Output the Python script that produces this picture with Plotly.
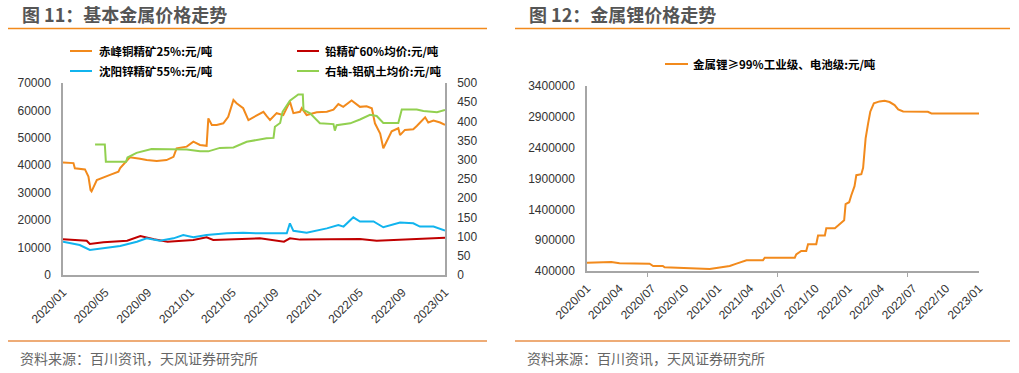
import plotly.graph_objects as go

W, H = 1019, 373

# ---------------- data: figure 11 ----------------
copper_dates = ["2020-01-01", "2020-01-31", "2020-02-04", "2020-03-04", "2020-03-14", "2020-03-20",
                "2020-03-23", "2020-04-07", "2020-05-15", "2020-06-08", "2020-06-13", "2020-07-11",
                "2020-08-09", "2020-08-28", "2020-09-26", "2020-10-24", "2020-11-13", "2020-11-22",
                "2020-12-21", "2021-01-09", "2021-01-28", "2021-02-16", "2021-02-21", "2021-03-03",
                "2021-03-17", "2021-04-05", "2021-04-19", "2021-05-04", "2021-05-13", "2021-06-01",
                "2021-06-16", "2021-07-10", "2021-07-29", "2021-08-07", "2021-08-17", "2021-09-05",
                "2021-09-24", "2021-10-13", "2021-10-23", "2021-11-11", "2021-11-16", "2021-11-30",
                "2021-12-29", "2022-01-27", "2022-02-15", "2022-03-01", "2022-03-15", "2022-04-08",
                "2022-05-02", "2022-05-21", "2022-06-05", "2022-06-14", "2022-06-29", "2022-07-08",
                "2022-07-18", "2022-08-01", "2022-08-20", "2022-08-25", "2022-09-08", "2022-10-02",
                "2022-10-12", "2022-11-05", "2022-11-14", "2022-11-29", "2022-12-18", "2023-01-01"]
copper_vals = [41000, 40800, 38900, 38500, 35900, 31000,
               30500, 34600, 36500, 37700, 39000, 42900,
               42400, 41900, 41600, 41900, 43100, 46200,
               46800, 48600, 47400, 47100, 57100, 54700,
               54700, 55300, 57700, 63800, 62600, 60800,
               56500, 58300, 59500, 58000, 56500, 59000,
               58300, 63200, 59000, 59500, 60800, 58300,
               59300, 59500, 60300, 62300, 61300, 63600,
               61300, 61500, 60800, 55300, 51600, 46200,
               48600, 52400, 53500, 51000, 52900, 53100,
               54300, 57500, 55600, 56300, 55600, 54700]

zinc_dates = ["2020-01-01", "2020-02-18", "2020-03-18", "2020-04-26", "2020-06-13", "2020-07-31",
              "2020-08-28", "2020-10-05", "2020-11-13", "2020-12-11", "2021-01-09", "2021-02-16",
              "2021-04-15", "2021-06-01", "2021-07-19", "2021-10-04", "2021-10-13", "2021-10-23",
              "2021-11-30", "2022-01-27", "2022-03-01", "2022-03-16", "2022-04-13", "2022-05-02",
              "2022-06-10", "2022-07-08", "2022-08-06", "2022-08-25", "2022-10-02", "2022-10-21",
              "2022-11-29", "2023-01-01"]
zinc_vals = [12150, 10940, 9120, 9700, 10570, 12150,
             13370, 12520, 13370, 14580, 13730, 14580,
             15190, 15400, 15190, 15190, 18850, 16100,
             15400, 17000, 18200, 17650, 21030, 19500,
             19500, 17400, 18600, 19100, 18850, 17650,
             17650, 16200]

lead_dates = ["2020-01-01", "2020-03-09", "2020-03-18", "2020-04-26", "2020-07-03", "2020-08-10",
              "2020-09-18", "2020-10-27", "2021-01-09", "2021-02-16", "2021-03-07", "2021-07-19",
              "2021-09-26", "2021-10-13", "2021-11-11", "2022-01-27", "2022-05-02", "2022-06-19",
              "2022-09-24", "2023-01-01"]
lead_vals = [13000, 12500, 11300, 11900, 12520, 14200,
             13000, 12150, 12760, 13730, 12760, 13370,
             12150, 13370, 12900, 13000, 13100, 12500,
             13000, 13600]

bauxite_dates = ["2020-04-02", "2020-04-30", "2020-05-03", "2020-06-30", "2020-07-04", "2020-07-30",
                 "2020-09-11", "2020-11-22", "2020-12-21", "2021-01-28", "2021-02-21", "2021-03-26",
                 "2021-05-04", "2021-06-11", "2021-07-10", "2021-08-07", "2021-08-27", "2021-08-31",
                 "2021-09-15", "2021-09-22", "2021-10-13", "2021-11-06", "2021-11-19", "2021-11-21",
                 "2021-12-10", "2022-01-07", "2022-02-15", "2022-02-19", "2022-02-24", "2022-04-04",
                 "2022-05-02", "2022-05-31", "2022-06-19", "2022-07-08", "2022-08-20", "2022-08-30",
                 "2022-10-12", "2022-10-31", "2022-12-09", "2023-01-01"]
bauxite_vals = [340, 340, 295, 295, 306, 318,
                328, 328, 327, 322, 322, 331,
                332, 347, 352, 356, 357, 386,
                396, 425, 454, 470, 470, 430,
                421, 395, 393, 376, 390, 395,
                405, 417, 414, 396, 396, 431,
                431, 427, 424, 430]

left_ticks = ["2020-01-01", "2020-05-01", "2020-09-01", "2021-01-01", "2021-05-01", "2021-09-01",
              "2022-01-01", "2022-05-01", "2022-09-01", "2023-01-01"]
left_ticktext = ["2020/01", "2020/05", "2020/09", "2021/01", "2021/05", "2021/09",
                 "2022/01", "2022/05", "2022/09", "2023/01"]

# ---------------- data: figure 12 ----------------
lithium_dates = ["2020-01-01", "2020-02-15", "2020-02-24", "2020-03-09", "2020-04-01", "2020-06-06",
                 "2020-06-24", "2020-07-04", "2020-07-31", "2020-08-05", "2020-10-05", "2020-11-02",
                 "2020-12-09", "2020-12-28", "2021-02-03", "2021-02-22", "2021-03-12", "2021-03-22",
                 "2021-05-07", "2021-05-12", "2021-08-04", "2021-08-08", "2021-08-22", "2021-09-05",
                 "2021-09-10", "2021-10-03", "2021-10-08", "2021-10-27", "2021-10-31", "2021-11-24",
                 "2021-12-03", "2021-12-12", "2021-12-20", "2021-12-24", "2022-01-03", "2022-01-09",
                 "2022-01-18", "2022-01-23", "2022-02-06", "2022-02-11", "2022-02-18", "2022-02-25",
                 "2022-03-03", "2022-03-13", "2022-03-29", "2022-04-12", "2022-04-26", "2022-05-10",
                 "2022-05-20", "2022-06-03", "2022-08-11", "2022-08-21", "2023-01-01"]
lithium_vals = [535000, 535000, 546000, 546000, 524500, 519000,
                519000, 481000, 481000, 459600, 448700, 432500,
                432500, 448700, 481000, 519000, 546000, 573000,
                573000, 616600, 616600, 670000, 725000, 725000,
                833000, 833000, 974000, 974000, 1093000, 1093000,
                1136000, 1180000, 1223000, 1483000, 1515000, 1629000,
                1775000, 1954000, 1970000, 2073000, 2550000, 2793000,
                2983000, 3118000, 3150000, 3162000, 3140000, 3091000,
                3021000, 2988000, 2983000, 2956000, 2956000]

right_ticks = ["2020-01-01", "2020-04-01", "2020-07-01", "2020-10-01", "2021-01-01", "2021-04-01",
               "2021-07-01", "2021-10-01", "2022-01-01", "2022-04-01", "2022-07-01", "2022-10-01",
               "2023-01-01"]
right_ticktext = ["2020/01", "2020/04", "2020/07", "2020/10", "2021/01", "2021/04",
                  "2021/07", "2021/10", "2022/01", "2022/04", "2022/07", "2022/10", "2023/01"]

# ---------------- styling ----------------
ORANGE = "#F28A1C"
RED = "#C00000"
BLUE = "#11B4EE"
GREEN = "#92D050"
AXIS = "#A6A6A6"
TICKFONT = dict(family="Liberation Sans, Arial, sans-serif", size=12, color="#333333")
CJK = "Noto Sans CJK SC, sans-serif"


def px(x):
    return x / W


def py(y):
    return 1 - y / H


fig = go.Figure()
fig.add_trace(go.Scatter(x=copper_dates, y=copper_vals, mode="lines", name="赤峰铜精矿25%:元/吨",
                         line=dict(color=ORANGE, width=2), xaxis="x", yaxis="y"))
fig.add_trace(go.Scatter(x=lead_dates, y=lead_vals, mode="lines", name="铅精矿60%均价:元/吨",
                         line=dict(color=RED, width=2), xaxis="x", yaxis="y"))
fig.add_trace(go.Scatter(x=zinc_dates, y=zinc_vals, mode="lines", name="沈阳锌精矿55%:元/吨",
                         line=dict(color=BLUE, width=2), xaxis="x", yaxis="y"))
fig.add_trace(go.Scatter(x=bauxite_dates, y=bauxite_vals, mode="lines", name="右轴-铝矾土均价:元/吨",
                         line=dict(color=GREEN, width=2), xaxis="x", yaxis="y2"))
fig.add_trace(go.Scatter(x=lithium_dates, y=lithium_vals, mode="lines", name="金属锂≥99%工业级、电池级:元/吨",
                         line=dict(color=ORANGE, width=2), xaxis="x2", yaxis="y3"))

common_x = dict(type="date", showgrid=False, zeroline=False, showline=True, linecolor=AXIS,
                linewidth=1.5, tickangle=-45, tickfont=TICKFONT, ticks="outside", ticklen=4,
                tickcolor="rgba(0,0,0,0)", automargin=False)
common_y = dict(showgrid=False, zeroline=False, showline=True, linecolor=AXIS, linewidth=1.5,
                tickfont=TICKFONT, ticks="outside", ticklen=8, tickcolor="rgba(0,0,0,0)",
                automargin=False)

fig.update_layout(
    template="none",
    width=W, height=H, margin=dict(l=0, r=0, t=0, b=0, pad=0),
    paper_bgcolor="white", plot_bgcolor="white", showlegend=False,
    xaxis=dict(common_x, domain=[px(63), px(445)], anchor="y",
               range=["2020-01-01", "2023-01-01"], tickvals=left_ticks, ticktext=left_ticktext),
    yaxis=dict(common_y, domain=[py(275), py(83)], anchor="x", range=[0, 70000], dtick=10000,
               tickformat="d"),
    yaxis2=dict(common_y, overlaying="y", side="right", anchor="x", range=[0, 500], dtick=50),
    xaxis2=dict(common_x, domain=[px(587), px(979)], anchor="y3",
                range=["2020-01-01", "2023-01-01"], tickvals=right_ticks, ticktext=right_ticktext,
                minor=dict(tickvals=["2020-06-19", "2021-06-18", "2022-06-16"], ticks="outside",
                           ticklen=4, tickcolor=AXIS, tickwidth=1)),
    yaxis3=dict(common_y, domain=[py(271), py(86)], anchor="x2", range=[400000, 3400000],
                tick0=400000, dtick=500000, tickformat="d"),
)

shapes = []
annotations = []

# titles + rules
for (tx, lx0, lx1, title) in [(20, 8, 487, "图 11：基本金属价格走势"),
                              (527, 515, 1010, "图 12：金属锂价格走势")]:
    annotations.append(dict(xref="paper", yref="paper", x=px(tx), y=py(14), xanchor="left",
                            yanchor="middle", showarrow=False, text="<b>" + title + "</b>",
                            font=dict(family=CJK, size=18, color="#555555")))
    shapes.append(dict(type="line", xref="paper", yref="paper", x0=px(lx0), x1=px(lx1),
                       y0=py(28.5), y1=py(28.5), line=dict(color=ORANGE, width=1.3)))
    shapes.append(dict(type="line", xref="paper", yref="paper", x0=px(lx0), x1=px(lx1),
                       y0=py(341), y1=py(341), line=dict(color="#E8914A", width=1.3)))
    annotations.append(dict(xref="paper", yref="paper", x=px(tx - 2), y=py(358), xanchor="left",
                            yanchor="middle", showarrow=False, text="资料来源：百川资讯，天风证券研究所",
                            font=dict(family=CJK, size=14, color="#666666")))

# legends
legend_items = [
    (70, 92, 97, 51, ORANGE, "赤峰铜精矿25%:元/吨"),
    (297, 319, 323, 51, RED, "铅精矿60%均价:元/吨"),
    (70, 92, 97, 71, BLUE, "沈阳锌精矿55%:元/吨"),
    (297, 319, 323, 71, GREEN, "右轴-铝矾土均价:元/吨"),
    (665, 688, 691, 64, ORANGE, "金属锂≥99%工业级、电池级:元/吨"),
]
for (x0, x1, tx, y, col, txt) in legend_items:
    shapes.append(dict(type="line", xref="paper", yref="paper", x0=px(x0), x1=px(x1),
                       y0=py(y), y1=py(y), line=dict(color=col, width=2)))
    annotations.append(dict(xref="paper", yref="paper", x=px(tx), y=py(y), xanchor="left",
                            yanchor="middle", showarrow=False, text="<b>" + txt + "</b>",
                            font=dict(family=CJK, size=11.5, color="#000000")))

fig.update_layout(shapes=shapes, annotations=annotations)
fig.write_html("out.html", config={"displayModeBar": False},
               post_script="document.body.style.margin='0';document.body.style.padding='0';"
                           "document.body.style.overflow='hidden';")
